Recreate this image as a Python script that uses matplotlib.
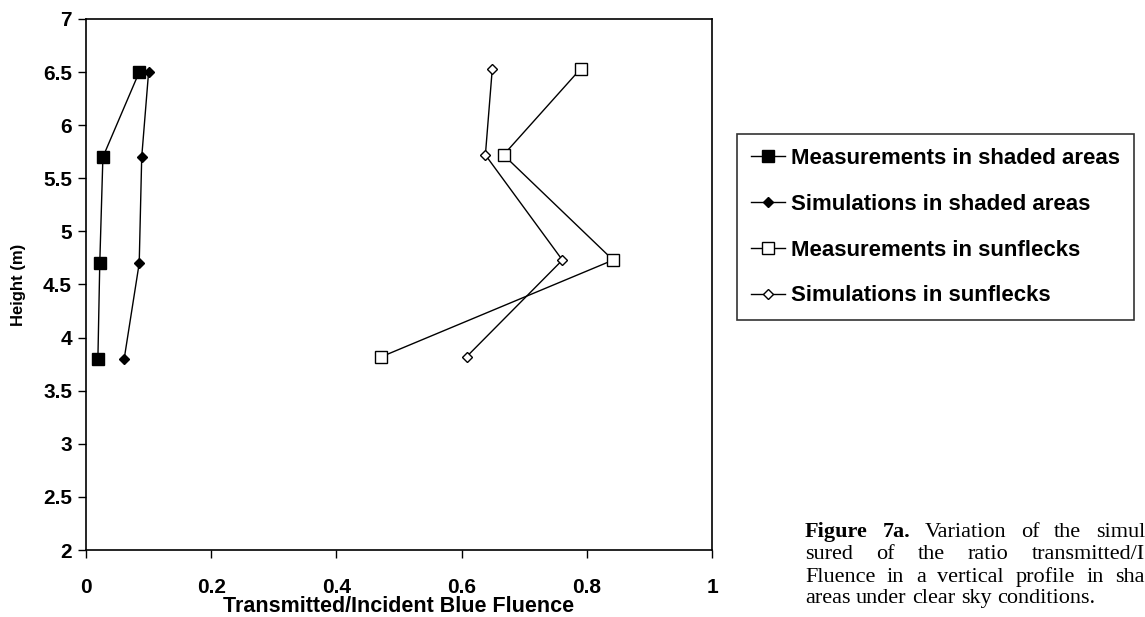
import matplotlib

matplotlib.use("Agg")
import matplotlib.pyplot as plt

# heights (m) and transmitted/incident blue fluence ratios
height_shade = [3.8, 4.7, 5.7, 6.5]
meas_shade = [0.019, 0.022, 0.027, 0.085]
sim_shade = [0.061, 0.085, 0.089, 0.100]

height_sun = [3.82, 4.73, 5.72, 6.53]
meas_sun = [0.472, 0.842, 0.667, 0.790]
sim_sun = [0.608, 0.761, 0.638, 0.649]

x_ticks = [0, 0.2, 0.4, 0.6, 0.8, 1]
x_labels = ["0", "0.2", "0.4", "0.6", "0.8", "1"]
y_ticks = [2, 2.5, 3, 3.5, 4, 4.5, 5, 5.5, 6, 6.5, 7]
y_labels = ["2", "2.5", "3", "3.5", "4", "4.5", "5", "5.5", "6", "6.5", "7"]

# caption text as visible in the scan (right side is cut off)
caption_lines = [
    "Figure 7a. Variation of the simul",
    "sured of the ratio transmitted/I",
    "Fluence in a vertical profile in sha",
    "areas under clear sky conditions.",
]

W, H = 1145, 617
plt.rcParams["font.family"] = ["Liberation Sans", "DejaVu Sans"]
plt.rcParams["font.weight"] = "bold"

fig = plt.figure(figsize=(W / 100, H / 100), dpi=100)
ax = fig.add_axes([86 / W, 1 - 550 / H, 626 / W, 531 / H])

line_kw = dict(color="black", linewidth=1.0, markeredgecolor="black", markeredgewidth=1.0)
ax.plot(meas_shade, height_shade, marker="s", markersize=8.5, markerfacecolor="black",
        label="Measurements in shaded areas", **line_kw)
ax.plot(sim_shade, height_shade, marker="D", markersize=5, markerfacecolor="black",
        label="Simulations in shaded areas", **line_kw)
ax.plot(meas_sun, height_sun, marker="s", markersize=8.5, markerfacecolor="white",
        label="Measurements in sunflecks", **line_kw)
ax.plot(sim_sun, height_sun, marker="D", markersize=5.5, markerfacecolor="white",
        label="Simulations in sunflecks", **line_kw)

ax.set_xlim(0, 1)
ax.set_ylim(2, 7)
ax.set_xticks(x_ticks)
ax.set_xticklabels(x_labels, fontsize=15, fontweight="bold")
ax.set_yticks(y_ticks)
ax.set_yticklabels(y_labels, fontsize=15, fontweight="bold")
ax.tick_params(axis="both", direction="out", length=6, width=1.0, color="black")
ax.tick_params(axis="x", pad=14)
ax.tick_params(axis="y", pad=4)
for spine in ax.spines.values():
    spine.set_linewidth(1.2)
    spine.set_color("black")

ax.set_xlabel("Transmitted/Incident Blue Fluence", fontsize=15.5, fontweight="bold")
ax.xaxis.set_label_coords(0.5, -(607 - 550) / 531)
ax.xaxis.label.set_va("center")
ax.set_ylabel("Height (m)", fontsize=12, fontweight="bold")
ax.yaxis.set_label_coords(-(86 - 19) / 626, 0.5)
ax.yaxis.label.set_va("center")

leg = fig.legend(
    loc="upper left",
    bbox_to_anchor=(737 / W, 1 - 134 / H),
    frameon=True,
    fancybox=False,
    edgecolor="black",
    prop={"family": "Liberation Sans", "weight": "bold", "size": 16},
    handlelength=1.55,
    handletextpad=0.25,
    labelspacing=1.12,
    borderpad=0.62,
    borderaxespad=0,
)
leg.get_frame().set_linewidth(1.2)

# caption beside the chart, justified so that lines 1-3 run to the right edge
cap_left = 805
cap_right = 1145
cap_base = [537, 559, 582, 603]
renderer = fig.canvas.get_renderer()
for i, (line, yb) in enumerate(zip(caption_lines, cap_base)):
    words = line.split(" ")
    texts = []
    for j, w in enumerate(words):
        bold = i == 0 and j < 2
        t = fig.text(0, 1 - yb / H, w, family="Liberation Serif",
                     fontweight="bold" if bold else "normal", fontsize=16, va="baseline")
        texts.append(t)
    widths = [t.get_window_extent(renderer).width for t in texts]
    if i < len(caption_lines) - 1:
        gap = (cap_right - cap_left - sum(widths)) / (len(words) - 1)
    else:
        gap = 5.5
    x = cap_left
    for t, wd in zip(texts, widths):
        t.set_x(x / W)
        x += wd + gap

fig.savefig("out.png", dpi=100)
